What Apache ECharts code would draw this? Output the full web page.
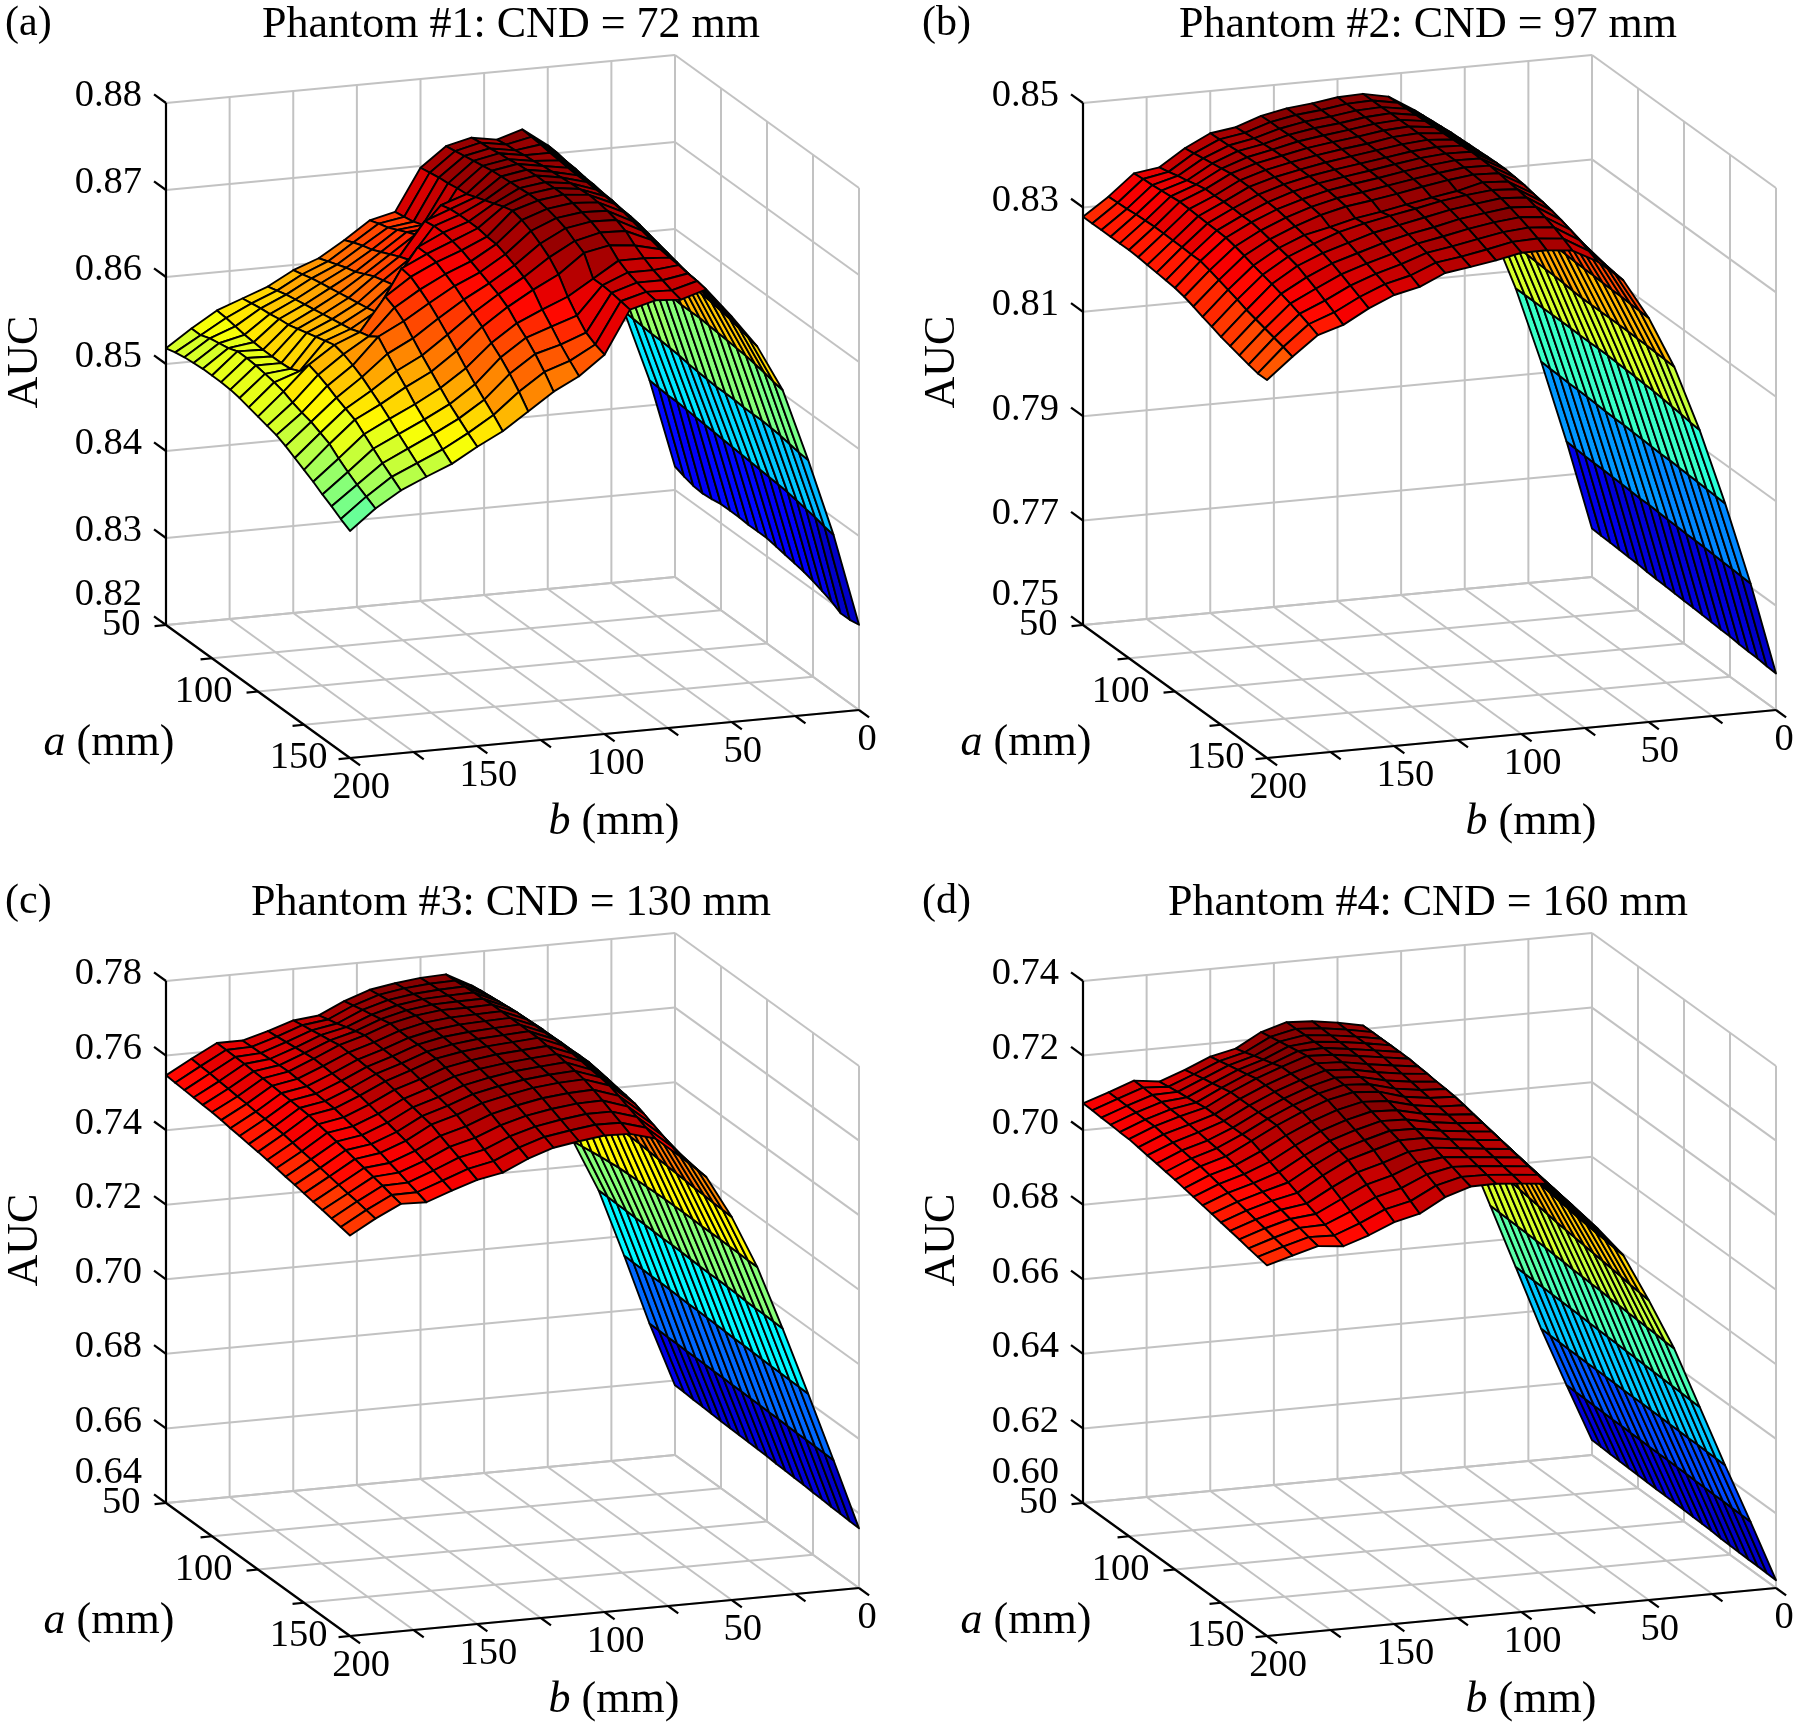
<!DOCTYPE html>
<html><head><meta charset="utf-8"><style>html,body{margin:0;background:#fff}#c{width:1800px;height:1727px}</style>
<script src="https://cdn.jsdelivr.net/npm/echarts@6/dist/echarts.min.js"></script></head><body><div id="c"></div>
<script>
const aValues=[50,55,60,65,70,75,80,85,90,95,100,105,110,115,120,125,130,135,140,145,150];
const bValues=[0,10,20,30,40,50,60,70,80,90,100,110,120,130,140,150,160,170,180,190,200];
const aTicks=[50,75,100,125,150], aLabels=['50','','100','','150'];
const bTicks=[200,175,150,125,100,75,50,25,0], bLabels=['200','','150','','100','','50','','0'];
const titles=['Phantom #1: CND = 72 mm','Phantom #2: CND = 97 mm','Phantom #3: CND = 130 mm','Phantom #4: CND = 160 mm'];
const letters=['(a)','(b)','(c)','(d)'];
const zTicksA=[.82,.83,.84,.85,.86,.87,.88];
const zTicksB=[.75,.77,.79,.81,.83,.85];
const zTicksC=[.64,.66,.68,.70,.72,.74,.76,.78];
const zTicksD=[.60,.62,.64,.66,.68,.70,.72,.74];
// AUC: one line per b (0..200), values along a (50..150)
const aucA=[
[.8327,.8323,.8320,.8319,.8320,.8322,.8322,.8322,.8321,.8321,.8321,.8319,.8317,.8315,.8313,.8310,.8306,.8302,.8296,.8296,.8298],
[.8429,.8428,.8427,.8427,.8426,.8425,.8424,.8423,.8422,.8421,.8420,.8419,.8418,.8417,.8416,.8415,.8413,.8411,.8409,.8406,.8404],
[.8511,.8510,.8509,.8508,.8508,.8507,.8506,.8504,.8503,.8502,.8501,.8501,.8501,.8500,.8500,.8500,.8499,.8498,.8496,.8494,.8493],
[.8590,.8591,.8591,.8592,.8592,.8592,.8592,.8591,.8591,.8590,.8590,.8590,.8589,.8588,.8587,.8586,.8585,.8583,.8581,.8578,.8576],
[.8660,.8660,.8659,.8659,.8658,.8658,.8657,.8655,.8654,.8652,.8650,.8649,.8647,.8645,.8643,.8642,.8640,.8638,.8635,.8632,.8629],
[.8710,.8709,.8707,.8706,.8704,.8703,.8701,.8700,.8698,.8697,.8695,.8692,.8689,.8686,.8683,.8680,.8678,.8675,.8672,.8669,.8666],
[.8731,.8730,.8729,.8727,.8726,.8725,.8724,.8724,.8723,.8723,.8722,.8720,.8717,.8714,.8711,.8708,.8706,.8705,.8703,.8702,.8700],
[.8722,.8724,.8725,.8727,.8728,.8730,.8731,.8732,.8733,.8734,.8735,.8734,.8732,.8729,.8724,.8715,.8708,.8702,.8698,.8694,.8691],
[.8727,.8729,.8730,.8732,.8733,.8735,.8736,.8737,.8737,.8738,.8738,.8736,.8733,.8730,.8725,.8718,.8708,.8702,.8698,.8695,.8693],
[.8720,.8722,.8724,.8726,.8728,.8730,.8731,.8732,.8733,.8734,.8734,.8732,.8729,.8725,.8718,.8712,.8690,.8690,.8689,.8687,.8685],
[.8698,.8700,.8702,.8703,.8705,.8706,.8710,.8714,.8718,.8722,.8725,.8722,.8717,.8710,.8702,.8690,.8672,.8658,.8646,.8640,.8636],
[.8650,.8652,.8654,.8658,.8662,.8696,.8699,.8700,.8700,.8700,.8698,.8697,.8693,.8688,.8682,.8675,.8660,.8648,.8635,.8624,.8614],
[.8643,.8647,.8650,.8655,.8660,.8665,.8688,.8690,.8690,.8688,.8685,.8680,.8675,.8670,.8665,.8658,.8647,.8638,.8627,.8614,.8599],
[.8623,.8628,.8632,.8635,.8640,.8645,.8650,.8654,.8676,.8676,.8674,.8668,.8662,.8654,.8646,.8638,.8627,.8618,.8607,.8594,.8579],
[.8605,.8609,.8613,.8617,.8620,.8625,.8630,.8633,.8636,.8662,.8660,.8653,.8645,.8635,.8624,.8613,.8601,.8590,.8580,.8570,.8559],
[.8594,.8597,.8600,.8602,.8604,.8606,.8608,.8610,.8612,.8615,.8640,.8635,.8627,.8615,.8603,.8592,.8581,.8570,.8561,.8552,.8544],
[.8578,.8581,.8584,.8586,.8588,.8590,.8592,.8594,.8596,.8598,.8602,.8605,.8612,.8600,.8588,.8577,.8565,.8555,.8546,.8536,.8527],
[.8567,.8569,.8571,.8572,.8574,.8575,.8578,.8581,.8584,.8587,.8590,.8587,.8582,.8576,.8568,.8560,.8551,.8541,.8532,.8523,.8515],
[.8556,.8555,.8553,.8551,.8550,.8549,.8549,.8549,.8550,.8555,.8570,.8566,.8561,.8555,.8550,.8545,.8536,.8527,.8518,.8510,.8502],
[.8538,.8538,.8542,.8544,.8546,.8550,.8550,.8549,.8547,.8545,.8542,.8537,.8533,.8530,.8525,.8520,.8511,.8503,.8496,.8490,.8484],
[.8518,.8521,.8523,.8524,.8525,.8525,.8525,.8524,.8522,.8519,.8516,.8513,.8510,.8505,.8499,.8493,.8487,.8480,.8474,.8467,.8461]];
const aucB=[
[.7593,.7592,.7591,.7590,.7589,.7588,.7586,.7585,.7584,.7583,.7582,.7581,.7580,.7579,.7578,.7577,.7575,.7574,.7573,.7571,.7570],
[.7764,.7763,.7762,.7761,.7761,.7760,.7759,.7758,.7757,.7757,.7756,.7755,.7754,.7753,.7753,.7752,.7751,.7750,.7749,.7748,.7747],
[.7922,.7921,.7920,.7919,.7919,.7918,.7917,.7916,.7915,.7915,.7914,.7913,.7912,.7911,.7911,.7910,.7909,.7908,.7907,.7906,.7905],
[.8067,.8067,.8067,.8067,.8067,.8067,.8067,.8066,.8066,.8066,.8066,.8065,.8064,.8063,.8062,.8061,.8059,.8057,.8055,.8052,.8050],
[.8190,.8189,.8188,.8187,.8187,.8186,.8185,.8184,.8183,.8181,.8180,.8180,.8180,.8180,.8180,.8180,.8179,.8179,.8178,.8177,.8176],
[.8295,.8294,.8293,.8292,.8291,.8290,.8288,.8287,.8285,.8284,.8282,.8281,.8280,.8279,.8279,.8278,.8277,.8277,.8276,.8275,.8274],
[.8384,.8383,.8381,.8380,.8379,.8378,.8377,.8376,.8374,.8373,.8372,.8370,.8368,.8366,.8364,.8362,.8360,.8358,.8356,.8353,.8351],
[.8427,.8429,.8431,.8433,.8435,.8436,.8437,.8438,.8439,.8440,.8440,.8438,.8436,.8432,.8429,.8425,.8420,.8414,.8407,.8399,.8391],
[.8457,.8458,.8459,.8460,.8461,.8462,.8463,.8464,.8465,.8466,.8466,.8465,.8463,.8460,.8458,.8455,.8450,.8443,.8436,.8427,.8417],
[.8467,.8467,.8467,.8468,.8468,.8468,.8468,.8468,.8467,.8467,.8467,.8466,.8465,.8463,.8461,.8458,.8453,.8447,.8440,.8432,.8422],
[.8465,.8465,.8465,.8465,.8465,.8465,.8465,.8464,.8463,.8463,.8462,.8460,.8459,.8451,.8456,.8452,.8447,.8442,.8436,.8430,.8422],
[.8458,.8458,.8458,.8458,.8458,.8458,.8457,.8457,.8456,.8456,.8455,.8453,.8451,.8443,.8449,.8445,.8440,.8434,.8427,.8420,.8412],
[.8453,.8453,.8453,.8453,.8452,.8452,.8451,.8450,.8449,.8448,.8447,.8445,.8442,.8434,.8439,.8435,.8429,.8424,.8418,.8411,.8404],
[.8443,.8444,.8444,.8445,.8445,.8445,.8444,.8443,.8442,.8441,.8440,.8437,.8434,.8425,.8430,.8425,.8420,.8415,.8410,.8404,.8397],
[.8426,.8428,.8430,.8432,.8434,.8435,.8435,.8434,.8434,.8433,.8432,.8430,.8427,.8417,.8420,.8415,.8408,.8400,.8393,.8384,.8375],
[.8419,.8420,.8421,.8423,.8424,.8425,.8425,.8424,.8423,.8422,.8420,.8418,.8415,.8405,.8408,.8400,.8393,.8386,.8379,.8372,.8364],
[.8395,.8398,.8401,.8404,.8407,.8410,.8410,.8410,.8408,.8406,.8405,.8402,.8398,.8394,.8390,.8385,.8378,.8370,.8361,.8352,.8343],
[.8363,.8367,.8372,.8376,.8381,.8385,.8385,.8386,.8386,.8385,.8385,.8382,.8378,.8374,.8370,.8365,.8356,.8347,.8337,.8327,.8316],
[.8356,.8358,.8359,.8361,.8363,.8365,.8364,.8363,.8362,.8361,.8360,.8356,.8351,.8345,.8340,.8335,.8329,.8323,.8316,.8309,.8301],
[.8316,.8317,.8318,.8320,.8321,.8322,.8322,.8321,.8321,.8320,.8320,.8315,.8309,.8303,.8297,.8290,.8285,.8280,.8275,.8270,.8264],
[.8282,.8282,.8282,.8282,.8282,.8282,.8281,.8279,.8277,.8275,.8273,.8269,.8263,.8256,.8250,.8243,.8238,.8233,.8228,.8224,.8224]];
const aucC=[
[.6587,.6586,.6584,.6583,.6581,.6580,.6579,.6578,.6577,.6576,.6575,.6573,.6572,.6570,.6569,.6567,.6566,.6564,.6563,.6561,.6560],
[.6759,.6759,.6758,.6758,.6757,.6757,.6757,.6756,.6756,.6755,.6755,.6754,.6754,.6753,.6753,.6752,.6751,.6751,.6750,.6750,.6749],
[.6948,.6947,.6947,.6946,.6946,.6945,.6944,.6943,.6943,.6942,.6941,.6940,.6939,.6939,.6938,.6937,.6936,.6936,.6935,.6935,.6934],
[.7129,.7129,.7128,.7128,.7127,.7127,.7126,.7125,.7125,.7124,.7123,.7122,.7121,.7121,.7120,.7119,.7118,.7117,.7117,.7116,.7115],
[.7267,.7271,.7275,.7279,.7282,.7285,.7286,.7287,.7288,.7289,.7290,.7290,.7290,.7290,.7289,.7289,.7289,.7288,.7288,.7287,.7287],
[.7445,.7446,.7447,.7448,.7449,.7450,.7449,.7448,.7447,.7446,.7445,.7443,.7441,.7439,.7437,.7435,.7433,.7432,.7430,.7429,.7427],
[.7603,.7600,.7598,.7595,.7593,.7590,.7587,.7584,.7581,.7578,.7575,.7571,.7567,.7563,.7559,.7555,.7552,.7549,.7546,.7544,.7541],
[.7664,.7666,.7669,.7671,.7673,.7675,.7675,.7676,.7676,.7677,.7677,.7673,.7669,.7664,.7660,.7655,.7645,.7634,.7623,.7612,.7601],
[.7711,.7715,.7718,.7721,.7724,.7727,.7727,.7727,.7727,.7727,.7727,.7724,.7721,.7717,.7714,.7710,.7700,.7689,.7679,.7668,.7657],
[.7747,.7748,.7750,.7752,.7753,.7755,.7755,.7755,.7755,.7755,.7755,.7751,.7747,.7743,.7738,.7733,.7723,.7712,.7700,.7688,.7676],
[.7744,.7746,.7748,.7750,.7752,.7753,.7753,.7753,.7752,.7751,.7750,.7746,.7742,.7738,.7734,.7730,.7720,.7710,.7700,.7689,.7678],
[.7736,.7740,.7743,.7747,.7750,.7753,.7751,.7750,.7748,.7747,.7745,.7741,.7736,.7732,.7727,.7723,.7713,.7702,.7691,.7680,.7669],
[.7725,.7729,.7733,.7737,.7741,.7745,.7744,.7742,.7741,.7739,.7737,.7732,.7727,.7721,.7716,.7710,.7700,.7690,.7679,.7669,.7658],
[.7701,.7707,.7713,.7718,.7724,.7730,.7728,.7727,.7727,.7726,.7725,.7719,.7713,.7707,.7701,.7695,.7683,.7671,.7659,.7647,.7635],
[.7669,.7676,.7683,.7691,.7698,.7705,.7704,.7703,.7702,.7701,.7700,.7694,.7688,.7682,.7676,.7670,.7657,.7644,.7630,.7617,.7604],
[.7662,.7667,.7671,.7676,.7680,.7685,.7683,.7682,.7680,.7679,.7677,.7672,.7666,.7661,.7655,.7650,.7638,.7626,.7615,.7603,.7591],
[.7640,.7643,.7646,.7649,.7652,.7655,.7653,.7651,.7649,.7647,.7645,.7639,.7632,.7626,.7619,.7613,.7604,.7595,.7587,.7578,.7569],
[.7621,.7622,.7623,.7625,.7626,.7627,.7625,.7623,.7621,.7619,.7617,.7611,.7605,.7599,.7593,.7587,.7578,.7570,.7561,.7553,.7544],
[.7621,.7620,.7619,.7618,.7616,.7615,.7613,.7611,.7609,.7607,.7605,.7599,.7594,.7588,.7583,.7577,.7571,.7565,.7559,.7552,.7546],
[.7585,.7583,.7581,.7578,.7576,.7573,.7571,.7568,.7566,.7563,.7561,.7556,.7551,.7547,.7542,.7537,.7532,.7527,.7523,.7518,.7513],
[.7547,.7545,.7543,.7541,.7539,.7537,.7534,.7530,.7527,.7523,.7520,.7516,.7512,.7507,.7503,.7498,.7493,.7489,.7484,.7479,.7474]];
const aucD=[
[.6040,.6039,.6038,.6037,.6036,.6035,.6034,.6033,.6033,.6032,.6031,.6030,.6029,.6028,.6026,.6025,.6024,.6023,.6023,.6022,.6021],
[.6194,.6193,.6193,.6192,.6192,.6191,.6191,.6190,.6190,.6189,.6189,.6189,.6188,.6188,.6187,.6187,.6186,.6186,.6185,.6185,.6184],
[.6352,.6351,.6351,.6350,.6350,.6349,.6349,.6348,.6348,.6347,.6347,.6347,.6346,.6346,.6345,.6345,.6344,.6344,.6343,.6343,.6342],
[.6524,.6523,.6522,.6522,.6521,.6520,.6519,.6518,.6517,.6516,.6515,.6514,.6513,.6512,.6511,.6510,.6509,.6508,.6507,.6506,.6505],
[.6695,.6694,.6693,.6692,.6691,.6690,.6689,.6687,.6686,.6684,.6683,.6681,.6680,.6678,.6677,.6675,.6674,.6672,.6671,.6669,.6668],
[.6865,.6863,.6861,.6859,.6857,.6855,.6851,.6847,.6843,.6839,.6835,.6832,.6829,.6826,.6823,.6820,.6817,.6814,.6810,.6807,.6804],
[.7005,.7002,.6999,.6996,.6993,.6990,.6985,.6980,.6975,.6970,.6965,.6961,.6957,.6953,.6949,.6945,.6942,.6939,.6937,.6934,.6931],
[.7094,.7091,.7088,.7086,.7083,.7080,.7075,.7070,.7065,.7060,.7055,.7050,.7045,.7040,.7035,.7030,.7026,.7022,.7017,.7013,.7009],
[.7154,.7152,.7150,.7149,.7147,.7145,.7141,.7137,.7133,.7129,.7125,.7120,.7115,.7110,.7105,.7100,.7096,.7091,.7087,.7082,.7078],
[.7210,.7210,.7210,.7210,.7210,.7210,.7207,.7205,.7202,.7200,.7197,.7192,.7186,.7181,.7175,.7170,.7164,.7159,.7153,.7148,.7142],
[.7224,.7223,.7222,.7222,.7221,.7220,.7216,.7212,.7208,.7204,.7200,.7195,.7191,.7186,.7182,.7177,.7171,.7166,.7160,.7155,.7149],
[.7234,.7233,.7232,.7232,.7231,.7230,.7226,.7222,.7218,.7214,.7210,.7205,.7200,.7195,.7190,.7185,.7179,.7173,.7167,.7161,.7155],
[.7238,.7238,.7239,.7239,.7240,.7240,.7238,.7236,.7234,.7232,.7230,.7223,.7216,.7209,.7202,.7195,.7187,.7179,.7171,.7162,.7154],
[.7218,.7223,.7228,.7233,.7238,.7243,.7241,.7240,.7238,.7237,.7235,.7227,.7219,.7211,.7203,.7195,.7182,.7170,.7157,.7145,.7132],
[.7180,.7188,.7196,.7204,.7212,.7220,.7220,.7220,.7220,.7220,.7220,.7211,.7202,.7193,.7184,.7175,.7159,.7143,.7127,.7110,.7094],
[.7165,.7171,.7177,.7183,.7189,.7195,.7195,.7195,.7195,.7195,.7195,.7187,.7179,.7171,.7163,.7155,.7140,.7125,.7109,.7094,.7078],
[.7136,.7142,.7148,.7153,.7159,.7165,.7165,.7165,.7165,.7165,.7165,.7156,.7147,.7138,.7129,.7120,.7106,.7092,.7077,.7063,.7049],
[.7111,.7115,.7119,.7122,.7126,.7130,.7130,.7130,.7130,.7130,.7130,.7120,.7110,.7100,.7090,.7080,.7069,.7059,.7048,.7037,.7026],
[.7120,.7119,.7117,.7116,.7114,.7113,.7109,.7106,.7102,.7099,.7095,.7089,.7083,.7077,.7071,.7065,.7059,.7052,.7046,.7039,.7033],
[.7095,.7095,.7094,.7094,.7093,.7093,.7089,.7085,.7082,.7078,.7075,.7069,.7063,.7057,.7051,.7045,.7039,.7033,.7026,.7020,.7014],
[.7072,.7071,.7069,.7068,.7066,.7065,.7061,.7057,.7053,.7049,.7045,.7040,.7035,.7030,.7025,.7020,.7015,.7010,.7004,.6999,.6994]];

const FONT='"Liberation Serif","Times New Roman",serif', FS=38.5, FT=44;
const panels=[[aucA,zTicksA,0,0],[aucB,zTicksB,917,0],[aucC,zTicksC,0,878],[aucD,zTicksD,917,878]];
const W=693,H=702,VZ=522;
// oblique projection of the MATLAB view into unit axes of each grid
function proj(a,b,t){const A=a-50,B=200-b;return [(1.84*A+2.545*B)/W,(133-(1.33*A-.24*B)+t*VZ)/H];}
function jet(f){f=Math.max(0,Math.min(.9999,f));f=(Math.floor(f*64)+.5)/64;
 const c=x=>Math.round(255*Math.max(0,Math.min(1,1.5-Math.abs(4*f-x))));
 return `rgb(${c(3)},${c(2)},${c(1)})`;}
const grid=[],xAxis=[],yAxis=[],series=[],title=[],graphic=[];
panels.forEach(([Z,zT,ox,oy],p)=>{
 grid.push({left:166+ox,top:56+oy,width:W,height:H});
 xAxis.push({type:'value',gridIndex:p,min:0,max:1,show:false});
 yAxis.push({type:'value',gridIndex:p,min:0,max:1,show:false});
 const z0=zT[0],z1=zT[zT.length-1],T=z=>(z-z0)/(z1-z0);
 const base={type:'custom',coordinateSystem:'cartesian2d',xAxisIndex:p,yAxisIndex:p,silent:true,animation:false,clip:false,progressive:0};
 const segs=[];
 aTicks.forEach(a=>{segs.push([a,200,0,a,0,0],[a,0,0,a,0,1]);});
 bTicks.forEach(b=>{segs.push([50,b,0,150,b,0],[50,b,0,50,b,1]);});
 zT.forEach(z=>{segs.push([50,200,T(z),50,0,T(z)],[50,0,T(z),150,0,T(z)]);});
 series.push({...base,name:'grid'+p,z:1,data:segs.map((s,i)=>[i]),
  renderItem(par,api){const s=segs[par.dataIndex],P=api.coord(proj(s[0],s[1],s[2])),Q=api.coord(proj(s[3],s[4],s[5]));
   return {type:'line',shape:{x1:P[0],y1:P[1],x2:Q[0],y2:Q[1]},style:{stroke:'#c2c2c2',lineWidth:2}};}});
 // surface cells, far to near
 const cells=[];for(let j=0;j<20;j++)for(let i=0;i<20;i++)cells.push([i,j]);
 let lo=1e9,hi=-1e9;Z.forEach(r=>r.forEach(v=>{lo=Math.min(lo,v);hi=Math.max(hi,v);}));
 lo-=.08*(hi-lo);
 series.push({...base,name:'surface'+p,z:3,data:cells,
  renderItem(par,api){const [i,j]=cells[par.dataIndex];
   const pt=(ii,jj)=>api.coord(proj(aValues[ii],bValues[jj],T(Z[jj][ii])));
   return {type:'polygon',shape:{points:[pt(i,j),pt(i+1,j),pt(i+1,j+1),pt(i,j+1)]},
    style:{fill:jet((Z[j][i]-lo)/(hi-lo)),stroke:'#000',lineWidth:1.9,lineJoin:'round'}};}});
 // black axes, ticks
 const ax=[[50,200,0,50,200,1],[50,200,0,150,200,0],[150,200,0,150,0,0]];
 zT.forEach(z=>ax.push([50,200,T(z),43.5,200,T(z)]));
 aTicks.forEach(a=>ax.push([a,200,0,a,204.5,0]));
 bTicks.forEach(b=>ax.push([150,b,0,155.5,b,0]));
 series.push({...base,name:'axes'+p,z:4,data:ax.map((s,i)=>[i]),
  renderItem(par,api){const s=ax[par.dataIndex],P=api.coord(proj(s[0],s[1],s[2])),Q=api.coord(proj(s[3],s[4],s[5]));
   return {type:'line',shape:{x1:P[0],y1:P[1],x2:Q[0],y2:Q[1]},style:{stroke:'#000',lineWidth:2.2}};}});
 // tick labels
 const labs=[];
 zT.forEach((z,k)=>labs.push([43.5,200,T(z),z.toFixed(2),-12,k===0?-21:2,'right']));
 aTicks.forEach((a,k)=>{if(aLabels[k])labs.push([a,204.5,0,aLabels[k],a===150?-11:-14,-1,'right']);});
 bTicks.forEach((b,k)=>{if(bLabels[k])labs.push([155.5,b,0,bLabels[k],b===0?-2:1,23,'center']);});
 series.push({...base,name:'labels'+p,z:5,data:labs.map((s,i)=>[i]),
  renderItem(par,api){const s=labs[par.dataIndex],P=api.coord(proj(s[0],s[1],s[2]));
   return {type:'text',x:P[0]+s[4],y:P[1]+s[5],style:{text:s[3],font:`${FS}px ${FONT}`,fill:'#000',textAlign:s[6],textVerticalAlign:'middle'}};}});
 title.push({text:titles[p],left:511+ox,top:oy+3,padding:0,textAlign:'center',textStyle:{fontFamily:FONT,fontSize:FT,fontWeight:'normal',color:'#000'}});
 title.push({text:letters[p],left:5+ox,top:oy+3,padding:0,textStyle:{fontFamily:FONT,fontSize:42,fontWeight:'normal',color:'#000'}});
 const rich={i:{fontFamily:FONT,fontSize:FT,fontStyle:'italic',fill:'#000'},n:{fontFamily:FONT,fontSize:FT,fill:'#000'}};
 graphic.push({type:'text',x:109+ox,y:743+oy,style:{text:'{i|a}{n| (mm)}',rich,align:'center',verticalAlign:'middle'}});
 graphic.push({type:'text',x:614+ox,y:822+oy,style:{text:'{i|b}{n| (mm)}',rich,align:'center',verticalAlign:'middle'}});
 graphic.push({type:'text',x:25+ox,y:362+oy,rotation:Math.PI/2,style:{text:'AUC',font:`${FT}px ${FONT}`,fill:'#000',align:'center',verticalAlign:'middle'}});
});
const chart=echarts.init(document.getElementById('c'),null,{renderer:'canvas'});
chart.setOption({animation:false,backgroundColor:'#fff',title,grid,xAxis,yAxis,series,graphic,tooltip:{show:false}});
</script></body></html>
